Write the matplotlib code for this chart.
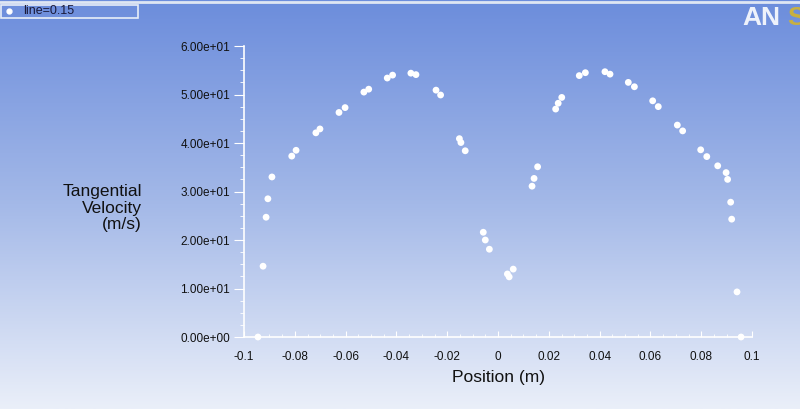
import numpy as np
import matplotlib
matplotlib.use("Agg")
import matplotlib.pyplot as plt
from matplotlib.colors import LinearSegmentedColormap

plt.rcParams['font.family'] = ['Liberation Sans', 'DejaVu Sans']

# Data: position (m) and tangential velocity (m/s) along line=0.15
position = [-0.0945, -0.0925, -0.0913, -0.0906, -0.0890,
            -0.0812, -0.0795, -0.0717, -0.0701, -0.0626, -0.0602,
            -0.0528, -0.0509, -0.0436, -0.0415, -0.0343, -0.0323,
            -0.0244, -0.0226, -0.0152, -0.0146, -0.0129,
            -0.0058, -0.0050, -0.0034, 0.0037, 0.0044, 0.0060,
            0.0134, 0.0142, 0.0156, 0.0227, 0.0237, 0.0251,
            0.0320, 0.0344, 0.0421, 0.0441, 0.0513, 0.0537,
            0.0609, 0.0631, 0.0706, 0.0727, 0.0798, 0.0822,
            0.0865, 0.0898, 0.0904, 0.0916, 0.0920, 0.0941, 0.0957]
velocity = [0.0, 14.6, 24.7, 28.5, 33.0,
            37.3, 38.5, 42.1, 42.9, 46.3, 47.3,
            50.5, 51.1, 53.4, 54.0, 54.4, 54.1,
            50.9, 49.9, 40.9, 40.1, 38.4,
            21.6, 20.0, 18.1, 13.0, 12.4, 14.0,
            31.1, 32.7, 35.1, 47.0, 48.2, 49.4,
            53.9, 54.5, 54.7, 54.2, 52.5, 51.6,
            48.7, 47.5, 43.7, 42.5, 38.6, 37.2,
            35.3, 33.9, 32.5, 27.8, 24.3, 9.3, 0.0]

x_ticks = [-0.1, -0.08, -0.06, -0.04, -0.02, 0, 0.02, 0.04, 0.06, 0.08, 0.1]
x_tick_labels = ["-0.1", "-0.08", "-0.06", "-0.04", "-0.02", "0", "0.02", "0.04", "0.06", "0.08", "0.1"]
y_ticks = [0, 10, 20, 30, 40, 50, 60]
y_tick_labels = ["0.00e+00", "1.00e+01", "2.00e+01", "3.00e+01", "4.00e+01", "5.00e+01", "6.00e+01"]

fig = plt.figure(figsize=(8, 4.09), dpi=100)

# gradient background
bg = fig.add_axes([0, 0, 1, 1], zorder=0)
cmap = LinearSegmentedColormap.from_list("bg", ["#6c8ddc", "#a4b9e8", "#eaeff9"])
grad = np.linspace(0, 1, 256).reshape(-1, 1)
bg.imshow(grad, aspect='auto', cmap=cmap, extent=[0, 1, 0, 1], origin='upper')
bg.set_xlim(0, 1); bg.set_ylim(0, 1)
bg.axis('off')
bg.axhline(0.996, color='#dfe6f3', lw=2)

ax = fig.add_axes([0.305, 0.176, 0.635, 0.7115], zorder=1)
ax.patch.set_alpha(0)
ax.scatter(position, velocity, s=24, color='white', edgecolors='none', zorder=3, clip_on=False)

ax.set_xlim(-0.1, 0.1)
ax.set_ylim(0, 60)
for s in ['top', 'right']:
    ax.spines[s].set_visible(False)
for s in ['left', 'bottom']:
    ax.spines[s].set_color('white')
    ax.spines[s].set_linewidth(1.2)

ax.set_xticks(x_ticks)
ax.set_xticklabels(x_tick_labels)
ax.set_yticks(y_ticks)
ax.set_yticklabels(y_tick_labels)
ax.set_xticks(np.arange(-0.1, 0.1001, 0.005), minor=True)
ax.set_yticks(np.arange(0, 60.01, 2.5), minor=True)
ax.tick_params(axis='x', which='major', direction='in', length=4, color='white',
               labelsize=8.5, labelcolor='#111111', pad=10)
ax.tick_params(axis='x', which='minor', direction='in', length=2, color='white')
ax.tick_params(axis='y', which='major', direction='out', length=7, color='white',
               labelsize=8.5, labelcolor='#111111', pad=3)
ax.tick_params(axis='y', which='minor', direction='out', length=3, color='white')

ax.set_xlabel("Position (m)", fontsize=12.5, color='#111111', labelpad=5)
fig.text(142/800, 1 - 208/409, "Tangential\nVelocity\n(m/s)", fontsize=12.5,
         color='#111111', ha='right', va='center', multialignment='right',
         linespacing=1.12)

# legend box
bg.add_patch(plt.Rectangle((1/800, 1 - 18/409), 137/800, 13/409, fill=False,
                           edgecolor='#e8eef8', lw=1.2, transform=fig.transFigure))
bg.plot([9/800], [1 - 11/409], 'o', color='white', ms=3.5, transform=fig.transFigure)
fig.text(23/800, 1 - 11/409, "line=0.15", fontsize=9, color='#1a1a3a', va='center', ha='left')

# logo (cut off at the right edge, as in the reference)
fig.text(742/800, 1 - 18/409, "AN", fontsize=19, fontweight='bold', color='#eef2fb',
         va='center', ha='left')
fig.text(787/800, 1 - 18/409, "S", fontsize=19, fontweight='bold', color='#c8b040',
         va='center', ha='left')

fig.savefig("out.png", dpi=100)
